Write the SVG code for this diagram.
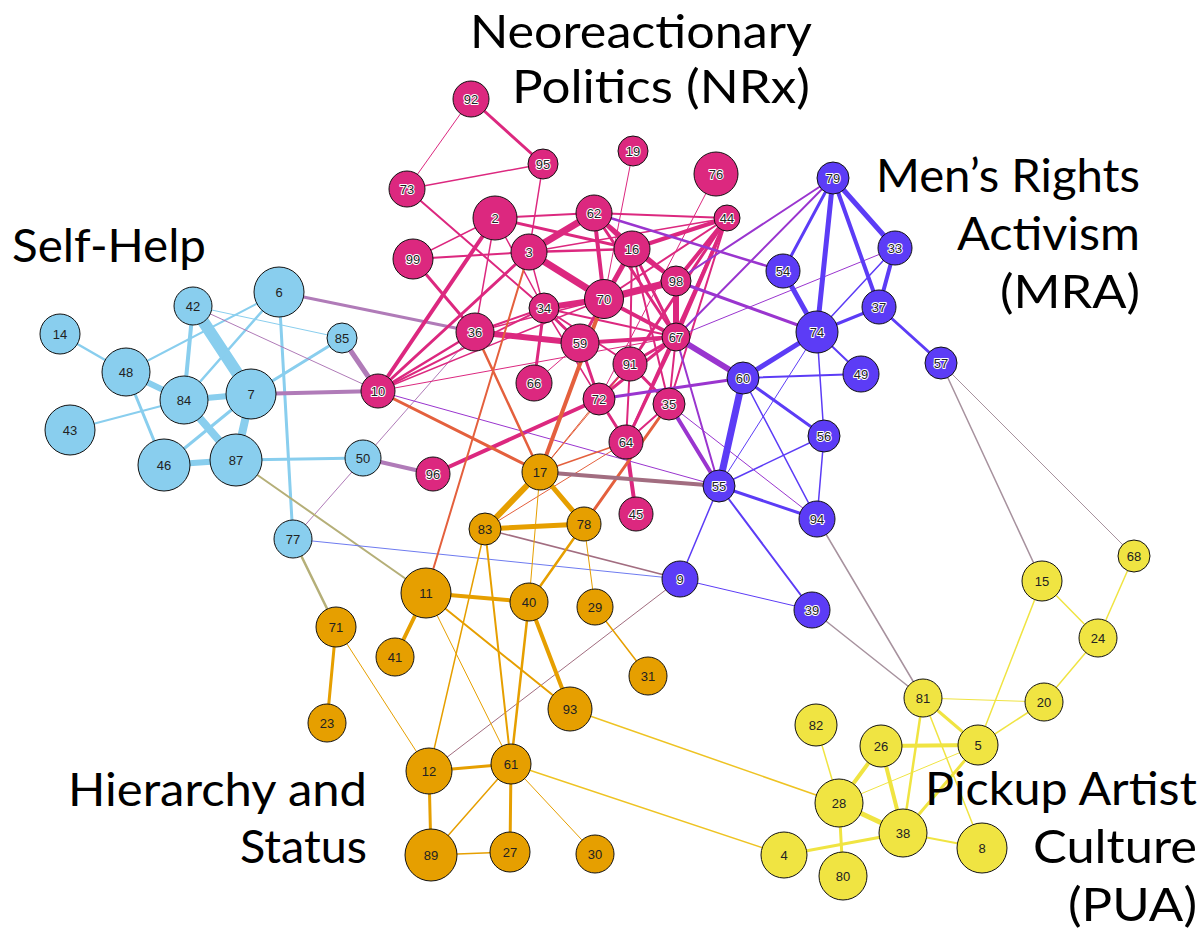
<svg xmlns="http://www.w3.org/2000/svg" width="1204" height="934" viewBox="0 0 1204 934">
<style>
.eb{stroke:#89CEEE}.epb{stroke:#B07BB8}.eob{stroke:#B5AF78}.ebv{stroke:#6E7BF0}
.ep{stroke:#DC287F}.epv{stroke:#9A35CF}.epo{stroke:#E4603D}.evo{stroke:#A26D80}
.evy{stroke:#A7929E}.ev{stroke:#5C3CF6}.eo{stroke:#E69F00}.eoy{stroke:#EEC323}.ey{stroke:#F0E442}
line{fill:none}
.node circle{stroke:#111;stroke-width:1}
.b circle{fill:#89CEEE}.p circle{fill:#DC287F}.v circle{fill:#5C3CF6}.o circle{fill:#E69F00}.y circle{fill:#F0E442}
.node text{font-family:"Liberation Sans",Arial,sans-serif;font-size:13px;text-anchor:middle;dominant-baseline:central;fill:#222;stroke:#fff;stroke-width:2px;paint-order:stroke;stroke-linejoin:round}
.b text,.y text,.o text{stroke:none;fill:#222}
.title{font-family:Lato,"Open Sans",sans-serif;font-size:47px;fill:#000;text-anchor:end}
</style>
<rect width="1204" height="934" fill="#fff"/>
<g id="edges" stroke-linecap="round">
<line class="eb" x1="60" y1="334" x2="126" y2="372" stroke-width="2.5"/>
<line class="eb" x1="126" y1="372" x2="279" y2="292" stroke-width="2"/>
<line class="eb" x1="193" y1="306" x2="184" y2="400" stroke-width="4"/>
<line class="eb" x1="193" y1="306" x2="251" y2="394" stroke-width="12"/>
<line class="eb" x1="193" y1="306" x2="342" y2="338" stroke-width="1"/>
<line class="eb" x1="279" y1="292" x2="184" y2="400" stroke-width="2.5"/>
<line class="eb" x1="279" y1="292" x2="293" y2="539" stroke-width="3"/>
<line class="eb" x1="342" y1="338" x2="251" y2="394" stroke-width="3"/>
<line class="eb" x1="126" y1="372" x2="184" y2="400" stroke-width="6"/>
<line class="eb" x1="126" y1="372" x2="164" y2="465" stroke-width="3"/>
<line class="eb" x1="184" y1="400" x2="251" y2="394" stroke-width="6"/>
<line class="eb" x1="184" y1="400" x2="236" y2="460" stroke-width="8"/>
<line class="eb" x1="184" y1="400" x2="70" y2="430" stroke-width="2"/>
<line class="eb" x1="251" y1="394" x2="164" y2="465" stroke-width="3"/>
<line class="eb" x1="251" y1="394" x2="236" y2="460" stroke-width="8"/>
<line class="eb" x1="164" y1="465" x2="236" y2="460" stroke-width="6"/>
<line class="eb" x1="236" y1="460" x2="363" y2="458" stroke-width="3"/>
<line class="epb" x1="193" y1="306" x2="378" y2="391" stroke-width="1"/>
<line class="epb" x1="279" y1="292" x2="475" y2="332" stroke-width="3"/>
<line class="epb" x1="342" y1="338" x2="378" y2="391" stroke-width="5"/>
<line class="epb" x1="251" y1="394" x2="378" y2="391" stroke-width="4"/>
<line class="epb" x1="363" y1="458" x2="433" y2="474" stroke-width="4"/>
<line class="epb" x1="293" y1="539" x2="475" y2="332" stroke-width="1"/>
<line class="eob" x1="236" y1="460" x2="426" y2="593" stroke-width="2"/>
<line class="eob" x1="293" y1="539" x2="336" y2="627" stroke-width="2.5"/>
<line class="ebv" x1="293" y1="539" x2="680" y2="579" stroke-width="1"/>
<line class="ep" x1="471" y1="99" x2="407" y2="189" stroke-width="1"/>
<line class="ep" x1="471" y1="99" x2="543" y2="164" stroke-width="3"/>
<line class="ep" x1="407" y1="189" x2="543" y2="164" stroke-width="1.5"/>
<line class="ep" x1="407" y1="189" x2="544" y2="308" stroke-width="2"/>
<line class="ep" x1="543" y1="164" x2="529" y2="252" stroke-width="1.5"/>
<line class="ep" x1="633" y1="151" x2="604" y2="299" stroke-width="1"/>
<line class="ep" x1="716" y1="174" x2="599" y2="399" stroke-width="1"/>
<line class="ep" x1="495" y1="218" x2="594" y2="213" stroke-width="2"/>
<line class="ep" x1="594" y1="213" x2="727" y2="218" stroke-width="2"/>
<line class="ep" x1="495" y1="218" x2="632" y2="249" stroke-width="3"/>
<line class="ep" x1="495" y1="218" x2="413" y2="259" stroke-width="1.5"/>
<line class="ep" x1="413" y1="259" x2="529" y2="252" stroke-width="2"/>
<line class="ep" x1="529" y1="252" x2="632" y2="249" stroke-width="2.5"/>
<line class="ep" x1="413" y1="259" x2="475" y2="332" stroke-width="3"/>
<line class="ep" x1="495" y1="218" x2="475" y2="332" stroke-width="1.5"/>
<line class="ep" x1="495" y1="218" x2="378" y2="391" stroke-width="4"/>
<line class="ep" x1="529" y1="252" x2="378" y2="391" stroke-width="3"/>
<line class="ep" x1="378" y1="391" x2="475" y2="332" stroke-width="2.5"/>
<line class="ep" x1="378" y1="391" x2="544" y2="308" stroke-width="2"/>
<line class="ep" x1="378" y1="391" x2="604" y2="299" stroke-width="1.5"/>
<line class="ep" x1="378" y1="391" x2="676" y2="337" stroke-width="1"/>
<line class="ep" x1="495" y1="218" x2="544" y2="308" stroke-width="1.5"/>
<line class="ep" x1="529" y1="252" x2="594" y2="213" stroke-width="7"/>
<line class="ep" x1="529" y1="252" x2="604" y2="299" stroke-width="7"/>
<line class="ep" x1="529" y1="252" x2="544" y2="308" stroke-width="1.5"/>
<line class="ep" x1="529" y1="252" x2="727" y2="218" stroke-width="1.5"/>
<line class="ep" x1="594" y1="213" x2="632" y2="249" stroke-width="4"/>
<line class="ep" x1="594" y1="213" x2="604" y2="299" stroke-width="4"/>
<line class="ep" x1="594" y1="213" x2="676" y2="281" stroke-width="3"/>
<line class="ep" x1="594" y1="213" x2="676" y2="337" stroke-width="3"/>
<line class="ep" x1="632" y1="249" x2="727" y2="218" stroke-width="4"/>
<line class="ep" x1="632" y1="249" x2="604" y2="299" stroke-width="5"/>
<line class="ep" x1="632" y1="249" x2="676" y2="281" stroke-width="4"/>
<line class="ep" x1="632" y1="249" x2="676" y2="337" stroke-width="3"/>
<line class="ep" x1="632" y1="249" x2="630" y2="364" stroke-width="2"/>
<line class="ep" x1="632" y1="249" x2="669" y2="404" stroke-width="2"/>
<line class="ep" x1="727" y1="218" x2="676" y2="281" stroke-width="4"/>
<line class="ep" x1="727" y1="218" x2="676" y2="337" stroke-width="4"/>
<line class="ep" x1="727" y1="218" x2="604" y2="299" stroke-width="2"/>
<line class="ep" x1="727" y1="218" x2="630" y2="364" stroke-width="3"/>
<line class="ep" x1="727" y1="218" x2="669" y2="404" stroke-width="2"/>
<line class="ep" x1="727" y1="218" x2="626" y2="442" stroke-width="2"/>
<line class="ep" x1="604" y1="299" x2="676" y2="281" stroke-width="7"/>
<line class="ep" x1="604" y1="299" x2="544" y2="308" stroke-width="6"/>
<line class="ep" x1="604" y1="299" x2="676" y2="337" stroke-width="4"/>
<line class="ep" x1="604" y1="299" x2="580" y2="343" stroke-width="3"/>
<line class="ep" x1="475" y1="332" x2="580" y2="343" stroke-width="6"/>
<line class="ep" x1="475" y1="332" x2="544" y2="308" stroke-width="2"/>
<line class="ep" x1="475" y1="332" x2="604" y2="299" stroke-width="1.5"/>
<line class="ep" x1="544" y1="308" x2="580" y2="343" stroke-width="3"/>
<line class="ep" x1="544" y1="308" x2="534" y2="383" stroke-width="3"/>
<line class="ep" x1="544" y1="308" x2="676" y2="337" stroke-width="2"/>
<line class="ep" x1="544" y1="308" x2="630" y2="364" stroke-width="2"/>
<line class="ep" x1="544" y1="308" x2="599" y2="399" stroke-width="1.5"/>
<line class="ep" x1="580" y1="343" x2="676" y2="337" stroke-width="4"/>
<line class="ep" x1="580" y1="343" x2="599" y2="399" stroke-width="3"/>
<line class="ep" x1="580" y1="343" x2="534" y2="383" stroke-width="1"/>
<line class="ep" x1="676" y1="337" x2="676" y2="281" stroke-width="6"/>
<line class="ep" x1="676" y1="337" x2="630" y2="364" stroke-width="3"/>
<line class="ep" x1="676" y1="337" x2="599" y2="399" stroke-width="3"/>
<line class="ep" x1="676" y1="337" x2="669" y2="404" stroke-width="2"/>
<line class="ep" x1="676" y1="337" x2="626" y2="442" stroke-width="3"/>
<line class="ep" x1="630" y1="364" x2="599" y2="399" stroke-width="2"/>
<line class="ep" x1="630" y1="364" x2="669" y2="404" stroke-width="3"/>
<line class="ep" x1="630" y1="364" x2="626" y2="442" stroke-width="2"/>
<line class="ep" x1="599" y1="399" x2="626" y2="442" stroke-width="3"/>
<line class="ep" x1="599" y1="399" x2="433" y2="474" stroke-width="4"/>
<line class="ep" x1="626" y1="442" x2="636" y2="514" stroke-width="4"/>
<line class="ep" x1="626" y1="442" x2="669" y2="404" stroke-width="2"/>
<line class="epv" x1="594" y1="213" x2="783" y2="271" stroke-width="2.5"/>
<line class="epv" x1="676" y1="281" x2="817" y2="332" stroke-width="3"/>
<line class="epv" x1="676" y1="281" x2="833" y2="178" stroke-width="2"/>
<line class="epv" x1="676" y1="337" x2="833" y2="178" stroke-width="2"/>
<line class="epv" x1="676" y1="337" x2="895" y2="248" stroke-width="1"/>
<line class="epv" x1="676" y1="337" x2="743" y2="378" stroke-width="6"/>
<line class="epv" x1="676" y1="337" x2="719" y2="486" stroke-width="2"/>
<line class="epv" x1="599" y1="399" x2="743" y2="378" stroke-width="3"/>
<line class="epv" x1="669" y1="404" x2="719" y2="486" stroke-width="4"/>
<line class="epv" x1="669" y1="404" x2="817" y2="519" stroke-width="1"/>
<line class="epv" x1="378" y1="391" x2="719" y2="486" stroke-width="1"/>
<line class="epo" x1="529" y1="252" x2="426" y2="593" stroke-width="2"/>
<line class="epo" x1="604" y1="299" x2="540" y2="472" stroke-width="4"/>
<line class="epo" x1="475" y1="332" x2="540" y2="472" stroke-width="2.5"/>
<line class="epo" x1="378" y1="391" x2="540" y2="472" stroke-width="3"/>
<line class="epo" x1="540" y1="472" x2="626" y2="442" stroke-width="1.5"/>
<line class="epo" x1="540" y1="472" x2="630" y2="364" stroke-width="1"/>
<line class="epo" x1="540" y1="472" x2="599" y2="399" stroke-width="1"/>
<line class="epo" x1="485" y1="529" x2="626" y2="442" stroke-width="1"/>
<line class="epo" x1="584" y1="524" x2="669" y2="404" stroke-width="3"/>
<line class="evo" x1="540" y1="472" x2="719" y2="486" stroke-width="4"/>
<line class="evo" x1="485" y1="529" x2="680" y2="579" stroke-width="1.5"/>
<line class="evo" x1="429" y1="771" x2="680" y2="579" stroke-width="1"/>
<line class="evy" x1="817" y1="519" x2="923" y2="698" stroke-width="1.5"/>
<line class="evy" x1="812" y1="610" x2="923" y2="698" stroke-width="1.5"/>
<line class="evy" x1="941" y1="363" x2="1042" y2="581" stroke-width="1.5"/>
<line class="evy" x1="941" y1="363" x2="1134" y2="556" stroke-width="1"/>
<line class="ev" x1="833" y1="178" x2="783" y2="271" stroke-width="3"/>
<line class="ev" x1="833" y1="178" x2="817" y2="332" stroke-width="5"/>
<line class="ev" x1="833" y1="178" x2="879" y2="307" stroke-width="4"/>
<line class="ev" x1="833" y1="178" x2="895" y2="248" stroke-width="5"/>
<line class="ev" x1="895" y1="248" x2="879" y2="307" stroke-width="4"/>
<line class="ev" x1="895" y1="248" x2="817" y2="332" stroke-width="1.5"/>
<line class="ev" x1="783" y1="271" x2="817" y2="332" stroke-width="5"/>
<line class="ev" x1="879" y1="307" x2="817" y2="332" stroke-width="3"/>
<line class="ev" x1="879" y1="307" x2="941" y2="363" stroke-width="3"/>
<line class="ev" x1="817" y1="332" x2="743" y2="378" stroke-width="5"/>
<line class="ev" x1="817" y1="332" x2="861" y2="374" stroke-width="2"/>
<line class="ev" x1="817" y1="332" x2="824" y2="436" stroke-width="1.5"/>
<line class="ev" x1="817" y1="332" x2="719" y2="486" stroke-width="1"/>
<line class="ev" x1="743" y1="378" x2="719" y2="486" stroke-width="7"/>
<line class="ev" x1="743" y1="378" x2="861" y2="374" stroke-width="2"/>
<line class="ev" x1="743" y1="378" x2="824" y2="436" stroke-width="3"/>
<line class="ev" x1="743" y1="378" x2="817" y2="519" stroke-width="1.5"/>
<line class="ev" x1="824" y1="436" x2="719" y2="486" stroke-width="1.5"/>
<line class="ev" x1="824" y1="436" x2="817" y2="519" stroke-width="1.5"/>
<line class="ev" x1="719" y1="486" x2="817" y2="519" stroke-width="3"/>
<line class="ev" x1="719" y1="486" x2="812" y2="610" stroke-width="2"/>
<line class="ev" x1="719" y1="486" x2="680" y2="579" stroke-width="1.5"/>
<line class="ev" x1="680" y1="579" x2="812" y2="610" stroke-width="1"/>
<line class="eo" x1="336" y1="627" x2="327" y2="723" stroke-width="3"/>
<line class="eo" x1="336" y1="627" x2="429" y2="771" stroke-width="1"/>
<line class="eo" x1="426" y1="593" x2="529" y2="602" stroke-width="4"/>
<line class="eo" x1="426" y1="593" x2="395" y2="657" stroke-width="4"/>
<line class="eo" x1="426" y1="593" x2="570" y2="709" stroke-width="2"/>
<line class="eo" x1="426" y1="593" x2="511" y2="764" stroke-width="1"/>
<line class="eo" x1="540" y1="472" x2="485" y2="529" stroke-width="6"/>
<line class="eo" x1="540" y1="472" x2="584" y2="524" stroke-width="5"/>
<line class="eo" x1="540" y1="472" x2="529" y2="602" stroke-width="1"/>
<line class="eo" x1="485" y1="529" x2="584" y2="524" stroke-width="5"/>
<line class="eo" x1="485" y1="529" x2="429" y2="771" stroke-width="1.5"/>
<line class="eo" x1="485" y1="529" x2="511" y2="764" stroke-width="2"/>
<line class="eo" x1="584" y1="524" x2="529" y2="602" stroke-width="2.5"/>
<line class="eo" x1="584" y1="524" x2="595" y2="607" stroke-width="1"/>
<line class="eo" x1="529" y1="602" x2="511" y2="764" stroke-width="2.5"/>
<line class="eo" x1="529" y1="602" x2="570" y2="709" stroke-width="4"/>
<line class="eo" x1="595" y1="607" x2="648" y2="676" stroke-width="1.5"/>
<line class="eo" x1="429" y1="771" x2="511" y2="764" stroke-width="3"/>
<line class="eo" x1="429" y1="771" x2="431" y2="855" stroke-width="3"/>
<line class="eo" x1="511" y1="764" x2="431" y2="855" stroke-width="1.5"/>
<line class="eo" x1="511" y1="764" x2="510" y2="852" stroke-width="3"/>
<line class="eo" x1="511" y1="764" x2="595" y2="854" stroke-width="1"/>
<line class="eo" x1="431" y1="855" x2="510" y2="852" stroke-width="1.5"/>
<line class="eoy" x1="511" y1="764" x2="784" y2="855" stroke-width="1.5"/>
<line class="eoy" x1="570" y1="709" x2="839" y2="803" stroke-width="1.5"/>
<line class="ey" x1="1134" y1="556" x2="1098" y2="638" stroke-width="1.5"/>
<line class="ey" x1="1042" y1="581" x2="1098" y2="638" stroke-width="1.5"/>
<line class="ey" x1="1042" y1="581" x2="978" y2="745" stroke-width="1.5"/>
<line class="ey" x1="1098" y1="638" x2="1044" y2="702" stroke-width="1.5"/>
<line class="ey" x1="923" y1="698" x2="1044" y2="702" stroke-width="1"/>
<line class="ey" x1="923" y1="698" x2="978" y2="745" stroke-width="3"/>
<line class="ey" x1="923" y1="698" x2="903" y2="833" stroke-width="2.5"/>
<line class="ey" x1="923" y1="698" x2="982" y2="848" stroke-width="1.5"/>
<line class="ey" x1="1044" y1="702" x2="978" y2="745" stroke-width="1.5"/>
<line class="ey" x1="816" y1="725" x2="839" y2="803" stroke-width="1.5"/>
<line class="ey" x1="881" y1="746" x2="978" y2="745" stroke-width="4"/>
<line class="ey" x1="881" y1="746" x2="839" y2="803" stroke-width="4"/>
<line class="ey" x1="881" y1="746" x2="903" y2="833" stroke-width="4"/>
<line class="ey" x1="839" y1="803" x2="978" y2="745" stroke-width="1"/>
<line class="ey" x1="839" y1="803" x2="903" y2="833" stroke-width="5"/>
<line class="ey" x1="839" y1="803" x2="843" y2="876" stroke-width="3"/>
<line class="ey" x1="978" y1="745" x2="903" y2="833" stroke-width="3"/>
<line class="ey" x1="903" y1="833" x2="784" y2="855" stroke-width="3"/>
<line class="ey" x1="903" y1="833" x2="982" y2="848" stroke-width="2"/>
</g>
<g id="nodes">
<g id="n14" class="node b"><circle cx="60" cy="334" r="20"/><text x="60" y="334">14</text></g>
<g id="n42" class="node b"><circle cx="193" cy="306" r="19"/><text x="193" y="306">42</text></g>
<g id="n6" class="node b"><circle cx="279" cy="292" r="25"/><text x="279" y="292">6</text></g>
<g id="n85" class="node b"><circle cx="342" cy="338" r="15"/><text x="342" y="338">85</text></g>
<g id="n48" class="node b"><circle cx="126" cy="372" r="24"/><text x="126" y="372">48</text></g>
<g id="n84" class="node b"><circle cx="184" cy="400" r="24"/><text x="184" y="400">84</text></g>
<g id="n7" class="node b"><circle cx="251" cy="394" r="25"/><text x="251" y="394">7</text></g>
<g id="n43" class="node b"><circle cx="70" cy="430" r="25"/><text x="70" y="430">43</text></g>
<g id="n46" class="node b"><circle cx="164" cy="465" r="26"/><text x="164" y="465">46</text></g>
<g id="n87" class="node b"><circle cx="236" cy="460" r="26"/><text x="236" y="460">87</text></g>
<g id="n50" class="node b"><circle cx="363" cy="458" r="18"/><text x="363" y="458">50</text></g>
<g id="n77" class="node b"><circle cx="293" cy="539" r="19"/><text x="293" y="539">77</text></g>
<g id="n92" class="node p"><circle cx="471" cy="99" r="18"/><text x="471" y="99">92</text></g>
<g id="n95" class="node p"><circle cx="543" cy="164" r="15"/><text x="543" y="164">95</text></g>
<g id="n19" class="node p"><circle cx="633" cy="151" r="15"/><text x="633" y="151">19</text></g>
<g id="n76" class="node p"><circle cx="716" cy="174" r="22"/><text x="716" y="174">76</text></g>
<g id="n73" class="node p"><circle cx="407" cy="189" r="18"/><text x="407" y="189">73</text></g>
<g id="n2" class="node p"><circle cx="495" cy="218" r="22"/><text x="495" y="218">2</text></g>
<g id="n62" class="node p"><circle cx="594" cy="213" r="18"/><text x="594" y="213">62</text></g>
<g id="n44" class="node p"><circle cx="727" cy="218" r="13"/><text x="727" y="218">44</text></g>
<g id="n99" class="node p"><circle cx="413" cy="259" r="20"/><text x="413" y="259">99</text></g>
<g id="n3" class="node p"><circle cx="529" cy="252" r="18"/><text x="529" y="252">3</text></g>
<g id="n16" class="node p"><circle cx="632" cy="249" r="18"/><text x="632" y="249">16</text></g>
<g id="n98" class="node p"><circle cx="676" cy="281" r="15"/><text x="676" y="281">98</text></g>
<g id="n70" class="node p"><circle cx="604" cy="299" r="19.5"/><text x="604" y="299">70</text></g>
<g id="n34" class="node p"><circle cx="544" cy="308" r="15"/><text x="544" y="308">34</text></g>
<g id="n36" class="node p"><circle cx="475" cy="332" r="19"/><text x="475" y="332">36</text></g>
<g id="n67" class="node p"><circle cx="676" cy="337" r="14"/><text x="676" y="337">67</text></g>
<g id="n59" class="node p"><circle cx="580" cy="343" r="19"/><text x="580" y="343">59</text></g>
<g id="n91" class="node p"><circle cx="630" cy="364" r="17"/><text x="630" y="364">91</text></g>
<g id="n66" class="node p"><circle cx="534" cy="383" r="18"/><text x="534" y="383">66</text></g>
<g id="n72" class="node p"><circle cx="599" cy="399" r="16"/><text x="599" y="399">72</text></g>
<g id="n35" class="node p"><circle cx="669" cy="404" r="16"/><text x="669" y="404">35</text></g>
<g id="n64" class="node p"><circle cx="626" cy="442" r="17"/><text x="626" y="442">64</text></g>
<g id="n45" class="node p"><circle cx="636" cy="514" r="17"/><text x="636" y="514">45</text></g>
<g id="n10" class="node p"><circle cx="378" cy="391" r="17"/><text x="378" y="391">10</text></g>
<g id="n96" class="node p"><circle cx="433" cy="474" r="17"/><text x="433" y="474">96</text></g>
<g id="n79" class="node v"><circle cx="833" cy="178" r="16"/><text x="833" y="178">79</text></g>
<g id="n33" class="node v"><circle cx="895" cy="248" r="17"/><text x="895" y="248">33</text></g>
<g id="n54" class="node v"><circle cx="783" cy="271" r="17"/><text x="783" y="271">54</text></g>
<g id="n37" class="node v"><circle cx="879" cy="307" r="17"/><text x="879" y="307">37</text></g>
<g id="n74" class="node v"><circle cx="817" cy="332" r="21"/><text x="817" y="332">74</text></g>
<g id="n57" class="node v"><circle cx="941" cy="363" r="16"/><text x="941" y="363">57</text></g>
<g id="n60" class="node v"><circle cx="743" cy="378" r="16"/><text x="743" y="378">60</text></g>
<g id="n49" class="node v"><circle cx="861" cy="374" r="18"/><text x="861" y="374">49</text></g>
<g id="n56" class="node v"><circle cx="824" cy="436" r="16"/><text x="824" y="436">56</text></g>
<g id="n55" class="node v"><circle cx="719" cy="486" r="16"/><text x="719" y="486">55</text></g>
<g id="n94" class="node v"><circle cx="817" cy="519" r="18"/><text x="817" y="519">94</text></g>
<g id="n9" class="node v"><circle cx="680" cy="579" r="18"/><text x="680" y="579">9</text></g>
<g id="n39" class="node v"><circle cx="812" cy="610" r="18"/><text x="812" y="610">39</text></g>
<g id="n17" class="node o"><circle cx="540" cy="472" r="18"/><text x="540" y="472">17</text></g>
<g id="n83" class="node o"><circle cx="485" cy="529" r="16"/><text x="485" y="529">83</text></g>
<g id="n78" class="node o"><circle cx="584" cy="524" r="17"/><text x="584" y="524">78</text></g>
<g id="n11" class="node o"><circle cx="426" cy="593" r="25"/><text x="426" y="593">11</text></g>
<g id="n40" class="node o"><circle cx="529" cy="602" r="19"/><text x="529" y="602">40</text></g>
<g id="n29" class="node o"><circle cx="595" cy="607" r="18"/><text x="595" y="607">29</text></g>
<g id="n71" class="node o"><circle cx="336" cy="627" r="20"/><text x="336" y="627">71</text></g>
<g id="n41" class="node o"><circle cx="395" cy="657" r="19"/><text x="395" y="657">41</text></g>
<g id="n31" class="node o"><circle cx="648" cy="676" r="19"/><text x="648" y="676">31</text></g>
<g id="n93" class="node o"><circle cx="570" cy="709" r="22"/><text x="570" y="709">93</text></g>
<g id="n23" class="node o"><circle cx="327" cy="723" r="19"/><text x="327" y="723">23</text></g>
<g id="n12" class="node o"><circle cx="429" cy="771" r="23"/><text x="429" y="771">12</text></g>
<g id="n61" class="node o"><circle cx="511" cy="764" r="20"/><text x="511" y="764">61</text></g>
<g id="n89" class="node o"><circle cx="431" cy="855" r="26"/><text x="431" y="855">89</text></g>
<g id="n27" class="node o"><circle cx="510" cy="852" r="20"/><text x="510" y="852">27</text></g>
<g id="n30" class="node o"><circle cx="595" cy="854" r="19"/><text x="595" y="854">30</text></g>
<g id="n68" class="node y"><circle cx="1134" cy="556" r="16"/><text x="1134" y="556">68</text></g>
<g id="n15" class="node y"><circle cx="1042" cy="581" r="20"/><text x="1042" y="581">15</text></g>
<g id="n24" class="node y"><circle cx="1098" cy="638" r="19"/><text x="1098" y="638">24</text></g>
<g id="n81" class="node y"><circle cx="923" cy="698" r="19"/><text x="923" y="698">81</text></g>
<g id="n20" class="node y"><circle cx="1044" cy="702" r="19"/><text x="1044" y="702">20</text></g>
<g id="n82" class="node y"><circle cx="816" cy="725" r="21"/><text x="816" y="725">82</text></g>
<g id="n26" class="node y"><circle cx="881" cy="746" r="21"/><text x="881" y="746">26</text></g>
<g id="n5" class="node y"><circle cx="978" cy="745" r="20"/><text x="978" y="745">5</text></g>
<g id="n28" class="node y"><circle cx="839" cy="803" r="24"/><text x="839" y="803">28</text></g>
<g id="n38" class="node y"><circle cx="903" cy="833" r="24"/><text x="903" y="833">38</text></g>
<g id="n8" class="node y"><circle cx="982" cy="848" r="25"/><text x="982" y="848">8</text></g>
<g id="n4" class="node y"><circle cx="784" cy="855" r="23"/><text x="784" y="855">4</text></g>
<g id="n80" class="node y"><circle cx="843" cy="876" r="24"/><text x="843" y="876">80</text></g>
</g>
<g id="labels">
<text class="title" x="812" y="48" textLength="342" lengthAdjust="spacingAndGlyphs">Neoreactionary</text>
<text class="title" x="810" y="103" textLength="298" lengthAdjust="spacingAndGlyphs">Politics (NRx)</text>
<text class="title" x="1140" y="192" textLength="264" lengthAdjust="spacingAndGlyphs">Men’s Rights</text>
<text class="title" x="1140" y="250" textLength="183" lengthAdjust="spacingAndGlyphs">Activism</text>
<text class="title" x="1140" y="308" textLength="140" lengthAdjust="spacingAndGlyphs">(MRA)</text>
<text class="title" x="206" y="262" textLength="194" lengthAdjust="spacingAndGlyphs">Self-Help</text>
<text class="title" x="367" y="806" textLength="299" lengthAdjust="spacingAndGlyphs">Hierarchy and</text>
<text class="title" x="367" y="863" textLength="127" lengthAdjust="spacingAndGlyphs">Status</text>
<text class="title" x="1197" y="805" textLength="272" lengthAdjust="spacingAndGlyphs">Pickup Artist</text>
<text class="title" x="1197" y="863" textLength="164" lengthAdjust="spacingAndGlyphs">Culture</text>
<text class="title" x="1197" y="921" textLength="129" lengthAdjust="spacingAndGlyphs">(PUA)</text>
</g>
</svg>
